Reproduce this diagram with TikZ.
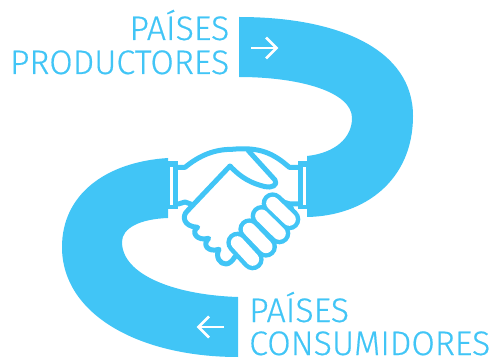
\documentclass[tikz,border=0pt]{standalone}
\usepackage{fontspec}
\setmainfont{Fira Sans Light}[FakeBold=0.5]
\definecolor{sky}{HTML}{41C5F6}
\tikzset{
  lbl/.style={text=sky,font=\fontsize{34}{36}\selectfont,inner sep=0pt},
  handline/.style={draw=sky,line width=5pt,line join=round,line cap=round},
  whitearrow/.style={draw=white,line width=2.8pt,line join=miter}
}
\begin{document}
\begin{tikzpicture}[x=1pt,y=-1pt]
\useasboundingbox (0,0) rectangle (490,358);
% bands
\fill[sky] (239,17) .. controls (340,17) and (413,50) .. (413,116)
  .. controls (413,180) and (365,216) .. (307,217) -- (307,156)
  .. controls (335,153) and (352,138) .. (352,118)
  .. controls (352,92) and (300,77) .. (239,77) -- cycle;
\fill[sky] (168,158) .. controls (105,162) and (62,195) .. (62,247)
  .. controls (62,315) and (140,357) .. (238,357) -- (238,297)
  .. controls (175,295) and (122,275) .. (122,242)
  .. controls (122,228) and (140,219) .. (168,218) -- cycle;
% arrows
\draw[whitearrow] (251,48) -- (276,48);
\draw[whitearrow] (266,37.5) -- (276.5,48) -- (266,58.5);
\draw[whitearrow] (224,327) -- (199,327);
\draw[whitearrow] (209,316.5) -- (198.5,327) -- (209,337.5);
% cuffs
\fill[sky] (166,161) rectangle (178,209);
\fill[white] (170,167) rectangle (173,205);
\fill[sky] (298,161) rectangle (309,209);
\fill[white] (303,167) rectangle (306,205);
\begin{scope}[shift={(150,130)},x=0.3333pt,y=-0.3333pt]
  % top sleeve
  \draw[handline] (85,112) -- (105,112) .. controls (150,75) and (195,58) .. (245,58)
    .. controls (330,50) and (370,70) .. (418,112) -- (445,112);
  % upper hand
  \draw[handline] (295,62) -- (375,150) .. controls (385,165) and (365,175) .. (345,170)
    .. controls (305,160) and (275,145) .. (240,108) -- (112,243)
    .. controls (95,258) and (100,290) .. (143,292)
    .. controls (122,305) and (140,335) .. (176,325)
    .. controls (155,345) and (175,368) .. (207,358)
    .. controls (195,380) and (210,403) .. (228,402)
    .. controls (238,402) and (248,392) .. (255,380);
  % wrists
  \draw[handline] (85,222) -- (105,216) -- (122,222);
  \draw[handline] (400,216) -- (420,222) -- (445,222);
  \draw[handline] (420,225) -- (430,250);
  % fingers
  \foreach \a/\b/\c/\d in {262/338/308/388,298/298/348/350,335/258/388/310,368/220/418/268}{
    \draw[sky,line cap=round,line width=22pt] (\a,\b) -- (\c,\d);
  }
  \foreach \a/\b/\c/\d in {262/338/308/388,298/298/348/350,335/258/388/310,368/220/418/268}{
    \draw[white,line cap=round,line width=13pt] (\a,\b) -- (\c,\d);
  }
\end{scope}
% labels
\node[lbl,anchor=base east] (p1) at (229.5,40) {PAÍSES};
\node[lbl,anchor=base east] (p2) at (229.5,74) {PRODUCTORES};
\node[lbl,anchor=base west] (c1) at (249,322) {PAÍSES};
\node[lbl,anchor=base west] (c2) at (249,355) {CONSUMIDORES};
\end{tikzpicture}
\end{document}
